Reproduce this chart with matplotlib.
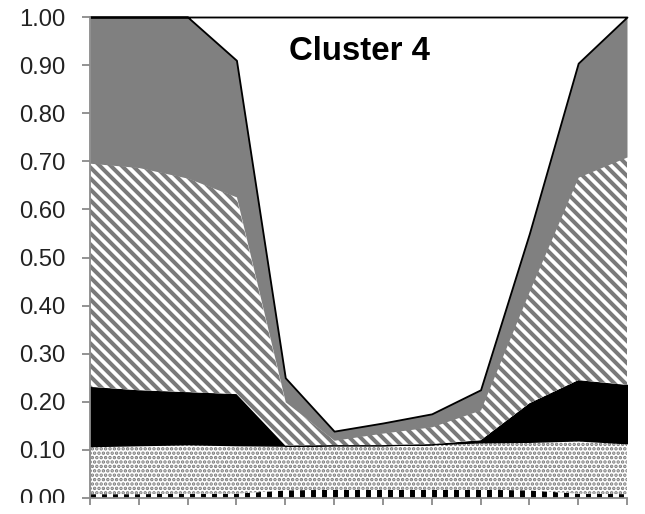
import matplotlib
matplotlib.use('Agg')
import matplotlib.pyplot as plt
from matplotlib.patches import Rectangle
import numpy as np

# 12 sampling points along the x axis (no labels in the original)
samples = list(range(12))

# stacked shares, bottom layer first (each column sums to 1.0)
checker = [0.008, 0.008, 0.009, 0.009, 0.016, 0.017, 0.017, 0.017, 0.017, 0.016, 0.009, 0.008]
dotted = [0.100, 0.102, 0.103, 0.101, 0.093, 0.093, 0.093, 0.095, 0.099, 0.101, 0.111, 0.106]
solid_black = [0.123, 0.114, 0.108, 0.106, 0.000, 0.000, 0.000, 0.000, 0.004, 0.080, 0.125, 0.121]
striped = [0.465, 0.463, 0.445, 0.410, 0.091, 0.010, 0.025, 0.036, 0.063, 0.233, 0.422, 0.474]
solid_grey = [0.304, 0.313, 0.335, 0.284, 0.050, 0.019, 0.021, 0.027, 0.042, 0.120, 0.237, 0.291]
white = [0.000, 0.000, 0.000, 0.090, 0.750, 0.861, 0.844, 0.825, 0.775, 0.450, 0.096, 0.000]

yticks = [0.0, 0.1, 0.2, 0.3, 0.4, 0.5, 0.6, 0.7, 0.8, 0.9, 1.0]
title = 'Cluster 4'

plt.rcParams['font.family'] = ['Liberation Sans', 'DejaVu Sans']

DPI = 132
fig = plt.figure(figsize=(645 / DPI, 514 / DPI), dpi=DPI)
ax = fig.add_axes([90 / 645, 16 / 514, 537 / 645, 481 / 514])

# (values, facecolor, hatch/edge colour, hatch, hatch linewidth, edge linewidth)
layers = [
    (checker, 'white', 'black', '||', 2.7, 0),
    (dotted, 'white', '#7a7a7a', '.....', 1.3, 0),
    (solid_black, 'black', 'black', None, 1.0, 0.8),
    (striped, 'white', '#7a7a7a', '\\' * 4, 2.2, 0),
    (solid_grey, '#808080', '#808080', None, 1.0, 0),
    (white, 'white', 'black', None, 1.0, 1.0),
]

x = np.array(samples)
base = np.zeros(len(samples))
for vals, fc, ec, hatch, hlw, lw in layers:
    top = base + np.array(vals)
    with plt.rc_context({'hatch.linewidth': hlw}):
        poly = ax.fill_between(x, base, top, facecolor=fc, edgecolor=ec,
                               hatch=hatch, linewidth=lw)
    if hasattr(poly, 'set_hatch_linewidth'):
        poly.set_hatch_linewidth(hlw)
    base = top
poly.set_clip_on(False)

ax.set_xlim(0, 11)
ax.set_ylim(0, 1)
ax.set_yticks(yticks)
ax.set_yticklabels(['%.2f' % v for v in yticks])
ax.set_xticks(samples)
ax.set_xticklabels([])

for side in ['top', 'right']:
    ax.spines[side].set_visible(False)
for side in ['left', 'bottom']:
    ax.spines[side].set_color('#8c8c8c')
    ax.spines[side].set_linewidth(1.0)

ax.tick_params(axis='y', direction='out', length=4.4, width=1.0, color='#8c8c8c',
               labelsize=13, labelcolor='#222222', pad=9)
ax.tick_params(axis='x', direction='out', length=3.8, width=1.0, color='#8c8c8c')

ax.text(0.502, 0.929, title, transform=ax.transAxes, ha='center', va='center',
        fontsize=18, fontweight='bold', color='black')

# the original picture is cropped just under the axis, cutting the "0.00" label
fig.add_artist(Rectangle((0, 0), 78 / 645, 11 / 514, transform=fig.transFigure,
                         facecolor='white', edgecolor='none', zorder=10))

fig.savefig('out.png', dpi=DPI)
